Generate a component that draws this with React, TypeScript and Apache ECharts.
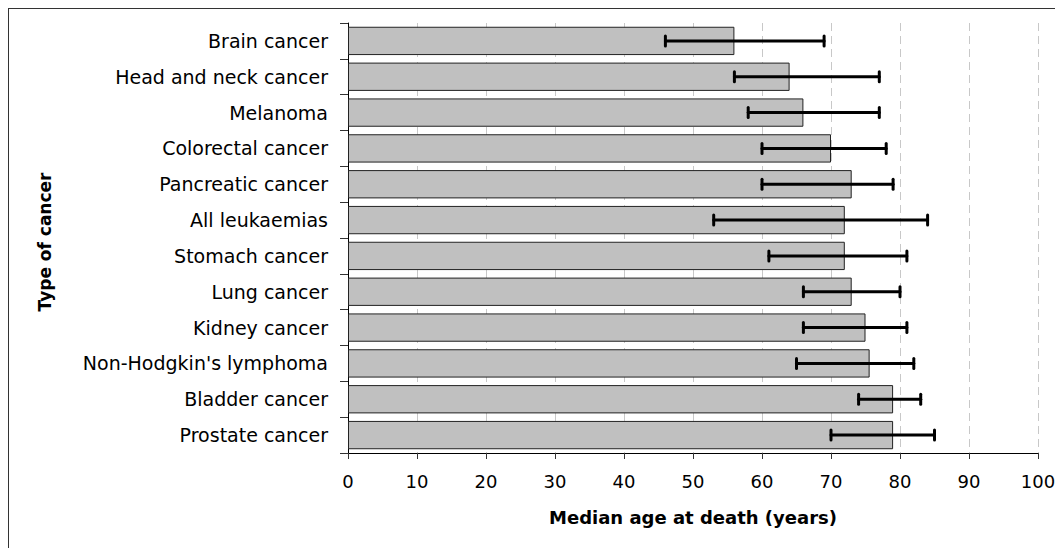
import React, { useEffect, useRef } from "react";
import * as echarts from "echarts";

const categories = [
  "Brain cancer",
  "Head and neck cancer",
  "Melanoma",
  "Colorectal cancer",
  "Pancreatic cancer",
  "All leukaemias",
  "Stomach cancer",
  "Lung cancer",
  "Kidney cancer",
  "Non-Hodgkin's lymphoma",
  "Bladder cancer",
  "Prostate cancer",
];
const medianAge = [56, 64, 66, 70, 73, 72, 72, 73, 75, 75.6, 79, 79];
const lowerAge = [46, 56, 58, 60, 60, 53, 61, 66, 66, 65, 74, 70];
const upperAge = [69, 77, 77, 78, 79, 84, 81, 80, 81, 82, 83, 85];
const xTicks = [0, 10, 20, 30, 40, 50, 60, 70, 80, 90, 100];

const FONT = "DejaVu Sans";

export default function App() {
  const ref = useRef<HTMLDivElement>(null);
  useEffect(() => {
    if (!ref.current) return;
    const chart = echarts.init(ref.current, null, { renderer: "svg" });
    const errData = categories.map((_, i) => [lowerAge[i], upperAge[i], i]);
    chart.setOption({
      animation: false,
      grid: { left: 339, top: 14, width: 690, height: 430 },
      xAxis: {
        type: "value",
        min: xTicks[0],
        max: xTicks[xTicks.length - 1],
        interval: 10,
        name: "Median age at death (years)",
        nameLocation: "middle",
        nameGap: 55,
        nameTextStyle: { fontFamily: FONT, fontSize: 18, fontWeight: "bold", color: "#000" },
        axisLine: { show: true, lineStyle: { color: "#000", width: 1 } },
        axisTick: { show: true, length: 6, lineStyle: { color: "#333" } },
        axisLabel: { fontFamily: FONT, fontSize: 18, color: "#000", margin: 19 },
        splitLine: { show: true, lineStyle: { color: "#c8c8c8", type: [8, 5], width: 1 } },
      },
      yAxis: {
        type: "category",
        data: categories,
        inverse: true,
        name: "Type of cancer",
        nameLocation: "middle",
        nameGap: 295,
        nameRotate: 90,
        nameTextStyle: { fontFamily: FONT, fontSize: 17, fontWeight: "bold", color: "#000", padding: [0, 8, 0, 0] },
        axisLine: { show: true, lineStyle: { color: "#000", width: 1 } },
        axisTick: { show: true, length: 8, lineStyle: { color: "#333" } },
        axisLabel: { fontFamily: FONT, fontSize: 19, color: "#000", margin: 20 },
        splitLine: { show: false },
      },
      series: [
        {
          type: "bar",
          data: medianAge,
          barCategoryGap: "21%",
          itemStyle: { color: "#c0c0c0", borderColor: "#222", borderWidth: 1 },
          z: 2,
        },
        {
          type: "custom",
          data: errData,
          encode: { x: [0, 1], y: 2 },
          z: 3,
          renderItem: (params: any, api: any) => {
            const lo = api.value(0);
            const hi = api.value(1);
            const idx = api.value(2);
            const p1 = api.coord([lo, idx]);
            const p2 = api.coord([hi, idx]);
            const h = 5;
            const style = { stroke: "#000", lineWidth: 3, lineCap: "round" };
            return {
              type: "group",
              children: [
                { type: "line", shape: { x1: p1[0], y1: p1[1], x2: p2[0], y2: p2[1] }, style },
                { type: "line", shape: { x1: p1[0], y1: p1[1] - h, x2: p1[0], y2: p1[1] + h }, style },
                { type: "line", shape: { x1: p2[0], y1: p2[1] - h, x2: p2[0], y2: p2[1] + h }, style },
              ],
            };
          },
        },
      ],
    });
    return () => chart.dispose();
  }, []);
  return (
    <div
      style={{
        width: 1055,
        height: 540,
        borderLeft: "1px solid #333",
        borderTop: "1px solid #333",
        boxSizing: "border-box",
      }}
    >
      <div ref={ref} style={{ width: 1054, height: 539 }} />
    </div>
  );
}
